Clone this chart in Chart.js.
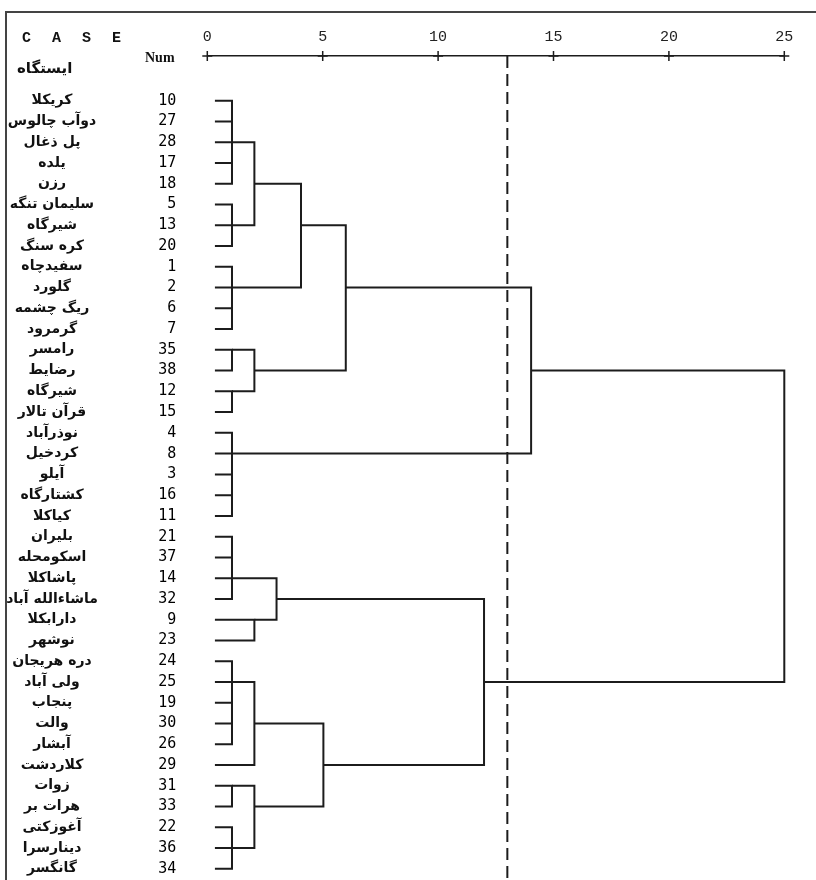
<!DOCTYPE html>
<html>
<head>
<meta charset="utf-8">
<script src="https://cdn.jsdelivr.net/npm/chart.js@4.4.1/dist/chart.umd.min.js"></script>
<style>
  body { margin: 0; background: #fff; }
  #wrap { position: relative; width: 816px; height: 880px; overflow: hidden; }
  #frame { position: absolute; left: 5px; top: 11px; width: 830px; height: 900px;
           border-left: 2px solid #444; border-top: 2px solid #444; }
  canvas { position: absolute; left: 0; top: 0; }
  .lbl { position: absolute; color: #111; white-space: nowrap; line-height: 1; }
  #caseLbl { left: 22px; top: 30px; font: bold 15px "Liberation Mono", monospace; letter-spacing: 6px; }
  #numLbl { left: 145px; top: 50px; font: bold 14px "Liberation Serif", serif; }
  #stLbl { left: 17px; top: 59px; font: bold 15px "DejaVu Sans", sans-serif; }
</style>
</head>
<body>
<div id="wrap">
  <div id="frame"></div>
  <canvas id="chart" width="816" height="880"></canvas>
  <span class="lbl" id="caseLbl">C A S E</span>
  <span class="lbl" id="numLbl">Num</span>
  <span class="lbl" id="stLbl">ایستگاه</span>
</div>
<script>
// leaf order, top to bottom
const caseNums = [10, 27, 28, 17, 18, 5, 13, 20, 1, 2, 6, 7, 35, 38, 12, 15, 4, 8, 3, 16, 11,
                  21, 37, 14, 32, 9, 23, 24, 25, 19, 30, 26, 29, 31, 33, 22, 36, 34];
const stationNames = ["کریکلا", "دوآب چالوس", "پل ذغال", "یلده", "رزن", "سلیمان تنگه", "شیرگاه",
  "کره سنگ", "سفیدچاه", "گلورد", "ریگ چشمه", "گرمرود", "رامسر", "رضایط", "شیرگاه", "قرآن تالار",
  "نوذرآباد", "کردخیل", "آیلو", "کشتارگاه", "کیاکلا", "بلیران", "اسکومحله", "پاشاکلا",
  "ماشاءالله آباد", "دارابکلا", "نوشهر", "دره هریجان", "ولی آباد", "پنجاب", "والت", "آبشار",
  "کلاردشت", "زوات", "هرات بر", "آغوزکتی", "دینارسرا", "گانگسر"];

// rescaled distance axis
const xTicks = [0, 5, 10, 15, 20, 25];
const cutoff = 13;

// merges: [a, b, distance]; numbers are case numbers, "#i" is the i-th merge
const merges = [
  [10, 27, 1.07], ["#0", 28, 1.07], [17, 18, 1.07], ["#1", "#2", 1.07],
  [5, 13, 1.07], ["#4", 20, 1.07], ["#3", "#5", 2.04],
  [1, 2, 1.07], [6, 7, 1.07], ["#7", "#8", 1.07], ["#6", "#9", 4.06],
  [35, 38, 1.07], [12, 15, 1.07], ["#11", "#12", 2.04], ["#10", "#13", 6.0],
  [4, 8, 1.07], [16, 11, 1.07], [3, "#16", 1.07], ["#15", "#17", 1.07],
  ["#14", "#18", 14.03],
  [21, 37, 1.07], ["#20", 14, 1.07], ["#21", 32, 1.07], [9, 23, 2.04], ["#22", "#23", 3.0],
  [24, 25, 1.07], [19, 30, 1.07], ["#26", 26, 1.07], ["#25", "#27", 1.07], ["#28", 29, 2.04],
  [31, 33, 1.07], [22, 36, 1.07], ["#31", 34, 1.07], ["#30", "#32", 2.04], ["#29", "#33", 5.03],
  ["#24", "#34", 11.99],
  ["#19", "#35", 25.0]
];

const leafStart = 0.33;
const rowGap = 20.76, firstRowY = 100.7;
const ink = "#1c1c1c";

// where each node sits: row and distance
const nodeRow = [], nodeDist = [];
function place(ref) {
  if (typeof ref === "number") return { row: caseNums.indexOf(ref), dist: leafStart };
  const i = +ref.slice(1);
  return { row: nodeRow[i], dist: nodeDist[i] };
}
const datasets = [];
merges.forEach(([a, b, d], i) => {
  const pa = place(a), pb = place(b);
  nodeRow[i] = Math.floor((pa.row + pb.row) / 2);
  nodeDist[i] = d;
  datasets.push({
    data: [{ x: pa.dist, y: pa.row }, { x: d, y: pa.row }, { x: d, y: pb.row }, { x: pb.dist, y: pb.row }],
    showLine: true, borderColor: ink, borderWidth: 2, pointRadius: 0, clip: false,
    yAxisID: "yNum"
  });
});

const cutSet = {
  data: [], showLine: true, borderColor: ink, borderWidth: 2, borderDash: [12, 6], pointRadius: 0,
  clip: false, yAxisID: "yNum"
};
const crossSet = {
  data: [], showLine: false, pointStyle: "cross", pointRadius: 5, borderColor: ink, borderWidth: 1.5,
  clip: false, yAxisID: "yNum"
};
datasets.push(cutSet, crossSet);

function setRange(lo, end) {
  cutSet.data = [{ x: cutoff, y: lo }, { x: cutoff, y: end }];
  crossSet.data = xTicks.map(v => ({ x: v, y: lo }));
}
setRange(-2.15, 37.5);

const nameFont = { family: "DejaVu Sans", size: 14, weight: "bold" };
const meas = document.createElement("canvas").getContext("2d");
meas.font = "bold 14px 'DejaVu Sans'";
const widest = Math.max(...stationNames.map(s => meas.measureText(s).width));
const nameAxisWidth = 107.3;

const chart = new Chart(document.getElementById("chart"), {
  type: "scatter",
  data: { datasets },
  options: {
    responsive: false,
    animation: false,
    events: [],
    layout: { padding: { left: 0, right: 31.7, top: 0, bottom: 0 } },
    plugins: { legend: { display: false }, tooltip: { enabled: false } },
    scales: {
      x: {
        type: "linear", position: "top", min: 0, max: 25,
        afterBuildTicks: s => { s.ticks = xTicks.map(v => ({ value: v })); },
        afterFit: s => { s.height = 56; },
        grid: { display: false, drawTicks: false },
        border: { display: true, dash: [7, 4], color: ink, width: 1.5 },
        ticks: { font: { family: "Liberation Mono", size: 15 }, color: "#222", padding: 10, maxRotation: 0 }
      },
      yNum: {
        type: "linear", position: "left", reverse: true, min: -2.15, max: 37.5, weight: 0,
        afterBuildTicks: s => { s.ticks = caseNums.map((_, i) => ({ value: i })); },
        afterFit: s => { s.width = 100; },
        grid: { display: false, drawTicks: false },
        border: { display: false },
        ticks: { callback: v => caseNums[v], font: { family: "DejaVu Sans Mono", size: 15 },
                 color: "#000", padding: 31, autoSkip: false }
      },
      yName: {
        type: "linear", position: "left", reverse: true, min: -2.15, max: 37.5, weight: 1,
        afterBuildTicks: s => { s.ticks = stationNames.map((_, i) => ({ value: i })); },
        afterFit: s => { s.width = nameAxisWidth; },
        grid: { display: false, drawTicks: false },
        border: { display: false },
        ticks: { callback: v => stationNames[v], font: nameFont, color: "#111",
                 crossAlign: "center", padding: nameAxisWidth - 52 - widest / 2, autoSkip: false }
      }
    }
  }
});

// fit the row range to the laid-out plot height so rows keep the reference spacing
const areaTop = chart.chartArea.top, areaBottom = chart.chartArea.bottom;
const lo = -(firstRowY - areaTop) / rowGap;
const hi = lo + (areaBottom - areaTop) / rowGap;
chart.options.scales.yNum.min = lo; chart.options.scales.yNum.max = hi;
chart.options.scales.yName.min = lo; chart.options.scales.yName.max = hi;
setRange(lo, lo + (chart.height - areaTop) / rowGap);
chart.update();
</script>
</body>
</html>
